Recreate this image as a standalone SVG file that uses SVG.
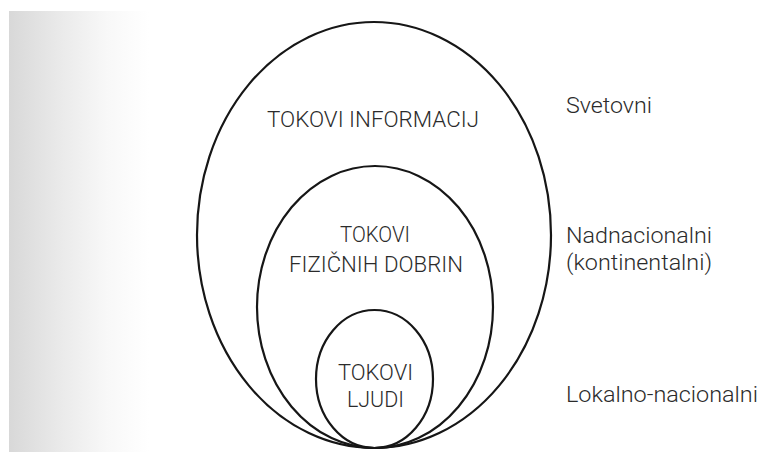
<svg xmlns="http://www.w3.org/2000/svg" width="760" height="452" viewBox="0 0 760 452">
  <defs>
    <linearGradient id="shade" x1="0" y1="0" x2="1" y2="0">
      <stop offset="0" stop-color="#d8d8d8"/>
      <stop offset="0.35" stop-color="#e9e9e9"/>
      <stop offset="0.7" stop-color="#f8f8f8"/>
      <stop offset="1" stop-color="#ffffff"/>
    </linearGradient>
  </defs>
  <style>
    .ring { fill: none; stroke: #161616; stroke-width: 2.2; }
    .lbl { font-family: Roboto, "Liberation Sans", Arial, sans-serif; font-weight: 300; font-size: 22px; fill: #2b2b2b; text-anchor: middle; }
    .side { font-family: Roboto, "Liberation Sans", Arial, sans-serif; font-weight: 300; font-size: 22px; fill: #2b2b2b; }
  </style>
  <rect x="0" y="0" width="760" height="452" fill="#ffffff"/>
  <rect x="9" y="11" width="140" height="441" fill="url(#shade)"/>

  <g id="outer">
    <ellipse class="ring" cx="374" cy="235" rx="177" ry="213"/>
    <text class="lbl" x="373" y="127" textLength="212" lengthAdjust="spacingAndGlyphs">TOKOVI INFORMACIJ</text>
  </g>
  <g id="middle">
    <ellipse class="ring" cx="375" cy="307" rx="118" ry="141"/>
    <text class="lbl" x="375" y="242" textLength="70" lengthAdjust="spacingAndGlyphs">TOKOVI</text>
    <text class="lbl" x="376" y="272" textLength="174" lengthAdjust="spacingAndGlyphs">FIZIČNIH DOBRIN</text>
  </g>
  <g id="inner">
    <ellipse class="ring" cx="374.5" cy="379" rx="58.5" ry="69"/>
    <text class="lbl" x="375.5" y="380" textLength="75" lengthAdjust="spacingAndGlyphs">TOKOVI</text>
    <text class="lbl" x="375.5" y="407" textLength="57" lengthAdjust="spacingAndGlyphs">LJUDI</text>
  </g>

  <g id="levels">
    <text class="side" x="566" y="113" textLength="86" lengthAdjust="spacingAndGlyphs">Svetovni</text>
    <text class="side" x="566" y="243" textLength="146" lengthAdjust="spacingAndGlyphs">Nadnacionalni</text>
    <text class="side" x="566" y="270" textLength="146" lengthAdjust="spacingAndGlyphs">(kontinentalni)</text>
    <text class="side" x="566" y="402" textLength="192" lengthAdjust="spacingAndGlyphs">Lokalno-nacionalni</text>
  </g>
  <g id="connectors"/>
</svg>
